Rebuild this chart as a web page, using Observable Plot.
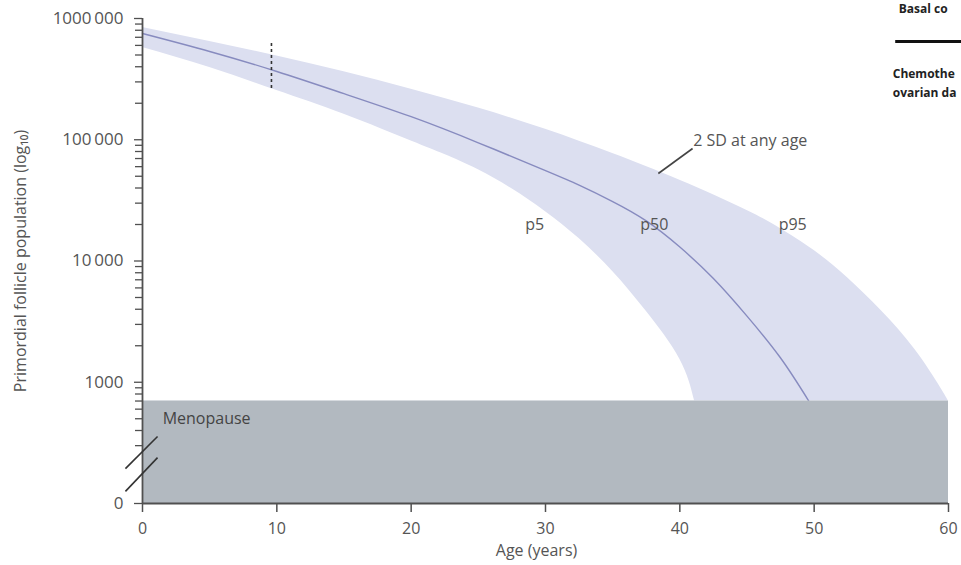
<!DOCTYPE html>
<html>
<head>
<meta charset="utf-8">
<script src="https://cdn.jsdelivr.net/npm/d3@7"></script>
<script src="https://cdn.jsdelivr.net/npm/@observablehq/plot@0.6"></script>
<style>
  html, body { margin: 0; padding: 0; background: #fff; overflow: hidden; }
</style>
</head>
<body>
<div id="chart"></div>
<script>
// ---- Data ----
const ageDomain = [0, 60];
const ageTicks = [0, 10, 20, 30, 40, 50, 60];
const axisFloor = 100;          // broken-axis floor, labelled "0"
const axisTop = 1000000;
const yTickValues = [100, 1000, 10000, 100000, 1000000];
const yTickLabels = ["0", "1000", "10\u2009000", "100\u2009000", "1000\u2009000"];
const yMinorTicks = [300, 400, 500, 600, 700, 800, 900,
  2000, 3000, 4000, 5000, 6000, 7000, 8000, 9000,
  20000, 30000, 40000, 50000, 60000, 70000, 80000, 90000,
  200000, 300000, 400000, 500000, 600000, 700000, 800000, 900000];
const menopauseThreshold = 700;

const p5Ages   = [0, 5, 10, 15, 20, 22.5, 25, 27.5, 30, 32.5, 35, 37.5, 40, 41.1];
const p5Values = [576800, 394500, 254700, 162200, 97700, 75500, 56500, 39400, 25500, 15300, 8200, 3850, 1550, 700];

const p50Ages   = [0, 5, 10, 15, 20, 25, 30, 32.5, 35, 37.5, 40, 42.5, 45, 47.5, 49.6];
const p50Values = [751600, 534600, 365600, 239900, 154900, 94400, 55600, 42200, 30900, 21400, 13030, 7160, 3510, 1585, 700];

const p95Ages   = [0, 5, 10, 15, 20, 25, 30, 35, 40, 45, 47.5, 50, 52.5, 55, 57.5, 59.4, 60];
const p95Values = [843300, 647100, 490900, 363900, 260600, 182400, 121900, 76900, 46300, 26100, 18450, 12190, 7244, 3890, 1862, 906, 700];

const curveLabels = [
  {text: "p5",  age: 29.2, value: 20000},
  {text: "p50", age: 38.1, value: 20000},
  {text: "p95", age: 48.4, value: 20000}
];
const sdNote = {text: "2 SD at any age", age: 41.0, value: 98600};
const sdLeader = {x1: 38.4, y1: 52700, x2: 40.95, y2: 84700};
const menopauseNote = {text: "Menopause", age: 1.5, value: 500};
const dashedMarker = {age: 9.6, from: 265000, to: 623000};
const breakMarks = [
  {x1: -1.27, y1: 194, x2: 1.12, y2: 357},
  {x1: -1.27, y1: 126, x2: 1.12, y2: 239}
];
// legend of the source figure, cropped at the picture's right edge
const legendFragments = [
  {text: "Basal co", age: 56.3, value: 1200000},
  {text: "Chemothe", age: 55.85, value: 345000},
  {text: "ovarian da", age: 55.85, value: 240000}
];
const legendLine = {x1: 56.07, x2: 61, value: 646000};
const xAxisLabel = "Age (years)";
const yAxisLabel = "Primordial follicle population (log\u2081\u2080)";

// ---- Tables ----
const zip = (ages, vals) => ages.map((a, i) => ({age: a, value: vals[i]}));
const p5Data = zip(p5Ages, p5Values);
const p50Data = zip(p50Ages, p50Values);
const p95Data = zip(p95Ages, p95Values);

const axisColor = "#505050";
const textColor = "#555";

const chart = Plot.plot({
  width: 961,
  height: 565,
  marginLeft: 142,
  marginRight: 13,
  marginTop: 18,
  marginBottom: 62,
  style: {fontFamily: "'Open Sans', sans-serif", fontSize: "16px", color: textColor, background: "#fff", overflow: "hidden"},
  x: {domain: ageDomain},
  y: {type: "log", domain: [axisFloor, axisTop]},
  marks: [
    // 2 SD band (p5–p95)
    Plot.areaY(p95Data, {x: "age", y1: menopauseThreshold, y2: "value", fill: "#dcdff0", curve: "natural"}),
    Plot.areaY(p5Data, {x: "age", y1: menopauseThreshold, y2: "value", fill: "#ffffff", curve: "natural"}),
    // p50
    Plot.lineY(p50Data, {x: "age", y: "value", stroke: "#878bbf", strokeWidth: 1.4, curve: "natural"}),
    // Menopause zone
    Plot.rectY([{}], {x1: ageDomain[0], x2: ageDomain[1], y1: axisFloor, y2: menopauseThreshold, fill: "#b2b9c0"}),
    // Axes
    Plot.axisY(yMinorTicks, {tickSize: 7, text: null, label: null, stroke: axisColor, strokeWidth: 1.3}),
    Plot.axisY(yTickValues, {tickSize: 8, tickPadding: 11, label: null, fontSize: 17, fill: textColor, stroke: axisColor, strokeWidth: 1.3,
      tickFormat: d => yTickLabels[yTickValues.indexOf(d)]}),
    Plot.axisX(ageTicks, {tickSize: 9, tickPadding: 10, label: null, fontSize: 16, fill: textColor, stroke: axisColor, strokeWidth: 1.5}),
    Plot.ruleX([ageDomain[0]], {y1: axisFloor, y2: axisTop, stroke: axisColor, strokeWidth: 1.8}),
    Plot.ruleY([axisFloor], {x1: ageDomain[0], x2: ageDomain[1], stroke: axisColor, strokeWidth: 1.8}),
    // Axis break marks
    Plot.link(breakMarks, {x1: "x1", y1: "y1", x2: "x2", y2: "y2", stroke: "#333", strokeWidth: 1.6}),
    // Dashed marker at ~10 years
    Plot.ruleX([dashedMarker], {x: "age", y1: "from", y2: "to", stroke: "#333", strokeWidth: 1.6, strokeDasharray: "3,3"}),
    // Annotations
    Plot.text(curveLabels, {x: "age", y: "value", text: "text", fontSize: 16, fill: textColor}),
    Plot.link([sdLeader], {x1: "x1", y1: "y1", x2: "x2", y2: "y2", stroke: "#444", strokeWidth: 1.6}),
    Plot.text([sdNote], {x: "age", y: "value", text: "text", textAnchor: "start", fontSize: 16, fill: textColor}),
    Plot.text([menopauseNote], {x: "age", y: "value", text: "text", textAnchor: "start", fontSize: 16, fill: "#444"}),
    // Axis titles
    Plot.text([xAxisLabel], {text: d => d, frameAnchor: "bottom", textAnchor: "middle", dx: -9, dy: 52, fontSize: 16, fill: textColor}),
    Plot.text([yAxisLabel], {text: d => d, frameAnchor: "left", textAnchor: "middle", dx: -122, rotate: -90, fontSize: 16, fill: textColor}),
    // Cropped legend fragments (top right)
    Plot.ruleY([legendLine], {y: "value", x1: "x1", x2: "x2", stroke: "#111", strokeWidth: 3}),
    Plot.text(legendFragments, {x: "age", y: "value", text: "text", textAnchor: "start", fontSize: 12, fontWeight: "bold", fill: "#222"})
  ]
});

document.getElementById("chart").appendChild(chart);
</script>
</body>
</html>
